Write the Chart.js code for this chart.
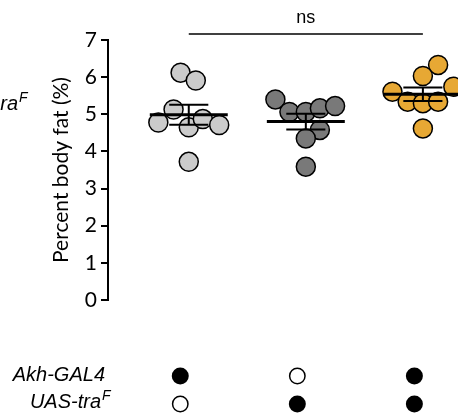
<!DOCTYPE html>
<html><head><meta charset="utf-8">
<script src="https://cdn.jsdelivr.net/npm/chart.js@4"></script>
<style>html,body{margin:0;padding:0;background:#fff}canvas{display:block}</style>
</head><body>
<canvas id="c" width="458" height="419"></canvas>
<script>
// ---- data ----
const groupNames = ['Akh-GAL4 > +', '+ > UAS-traF', 'Akh-GAL4 > UAS-traF'];
const groupPositions = [1, 2, 3];
const akhControlValues = [6.12, 5.91, 5.13, 4.78, 4.65, 4.87, 4.71, 3.72];
const akhControlJitter = [-0.07, 0.06, -0.13, -0.26, 0, 0.12, 0.26, 0];
const uasControlValues = [5.40, 5.06, 5.06, 5.16, 5.22, 4.58, 4.35, 3.59];
const uasControlJitter = [-0.26, -0.14, 0, 0.12, 0.25, 0.12, 0, 0];
const experimentalValues = [6.33, 6.03, 5.61, 5.74, 5.34, 5.30, 5.34, 4.62];
const experimentalJitter = [0.13, 0, -0.26, 0.26, -0.13, 0, 0.13, 0];
const yTickValues = [0, 1, 2, 3, 4, 5, 6, 7];
const yAxisTitle = 'Percent body fat (%)';
const significanceLabel = 'ns';
const genotypeRowLabels = ['Akh-GAL4', 'UAS-tra'];
const genotypeRowSuperscripts = ['', 'F'];
const akhGal4Present = [true, false, true];
const uasTraPresent = [false, true, true];

// ---- styles ----
const fillColors = ['#cbcbcb', '#797979', '#e7a834'];
const tickFont = {family: 'Lato', size: 21};

function pts(values, jitter, pos) {
  return values.map((v, i) => ({x: pos + jitter[i], y: v}));
}
const groupValues = [akhControlValues, uasControlValues, experimentalValues];
const groupJitter = [akhControlJitter, uasControlJitter, experimentalJitter];

const datasets = groupValues.map((vals, g) => ({
  label: groupNames[g],
  data: pts(vals, groupJitter[g], groupPositions[g]),
  backgroundColor: fillColors[g],
  borderColor: '#000',
  borderWidth: 1.5,
  pointRadius: 9.5,
  pointHoverRadius: 9.5,
  clip: false
}));

function mean(a){return a.reduce((s,v)=>s+v,0)/a.length;}
function sem(a){const m=mean(a);const sd=Math.sqrt(a.reduce((s,v)=>s+(v-m)*(v-m),0)/(a.length-1));return sd/Math.sqrt(a.length);}

function italicText(ctx, text, sup, xRight, baseline) {
  ctx.font = 'italic 20px "Liberation Sans", Arial, sans-serif';
  ctx.textAlign = 'right';
  ctx.textBaseline = 'alphabetic';
  ctx.fillText(text, xRight, baseline);
  if (sup) {
    ctx.font = 'italic 14px "Liberation Sans", Arial, sans-serif';
    ctx.textAlign = 'left';
    ctx.fillText(sup, xRight + 1, baseline - 8);
  }
}

const overlay = {
  id: 'overlay',
  afterDatasetsDraw(chart) {
    const ctx = chart.ctx, x = chart.scales.x, y = chart.scales.y;
    ctx.save();
    ctx.strokeStyle = '#000';
    ctx.fillStyle = '#000';
    // mean and SEM
    groupValues.forEach((vals, g) => {
      const p = groupPositions[g];
      const m = mean(vals), s = sem(vals);
      const cx = x.getPixelForValue(p);
      ctx.lineWidth = 3;
      ctx.beginPath();
      ctx.moveTo(x.getPixelForValue(p - 0.333), y.getPixelForValue(m));
      ctx.lineTo(x.getPixelForValue(p + 0.333), y.getPixelForValue(m));
      ctx.stroke();
      ctx.lineWidth = 2;
      ctx.beginPath();
      ctx.moveTo(cx, y.getPixelForValue(m + s));
      ctx.lineTo(cx, y.getPixelForValue(m - s));
      [m + s, m - s].forEach(v => {
        ctx.moveTo(x.getPixelForValue(p - 0.167), y.getPixelForValue(v));
        ctx.lineTo(x.getPixelForValue(p + 0.167), y.getPixelForValue(v));
      });
      ctx.stroke();
    });
    // significance bracket
    ctx.lineWidth = 1.5;
    ctx.beginPath();
    ctx.moveTo(x.getPixelForValue(groupPositions[0]), 34);
    ctx.lineTo(x.getPixelForValue(groupPositions[2]), 34);
    ctx.stroke();
    ctx.font = '18px "Liberation Sans", Arial, sans-serif';
    ctx.textAlign = 'center';
    ctx.textBaseline = 'alphabetic';
    ctx.fillText(significanceLabel, x.getPixelForValue(groupPositions[1]), 23);
    // cut-off label from neighbouring panel
    italicText(ctx, 'ra', 'F', 18, 110);
    // genotype table
    const rowBase = [381, 408];
    const rowDot = [376, 404];
    const rowRight = [105, 101];
    const presence = [akhGal4Present, uasTraPresent];
    genotypeRowLabels.forEach((lab, r) => {
      italicText(ctx, lab, genotypeRowSuperscripts[r], rowRight[r], rowBase[r]);
      presence[r].forEach((on, g) => {
        const cx = x.getPixelForValue(groupPositions[g]) - 8.5;
        ctx.beginPath();
        ctx.arc(cx, rowDot[r], on ? 8.5 : 7.7, 0, Math.PI * 2);
        if (on) { ctx.fillStyle = '#000'; ctx.fill(); }
        else { ctx.lineWidth = 1.5; ctx.stroke(); }
      });
    });
    ctx.restore();
  }
};

new Chart(document.getElementById('c'), {
  type: 'scatter',
  data: {datasets},
  options: {
    responsive: false,
    animation: false,
    events: [],
    layout: {autoPadding: false, padding: {top: 40, bottom: 119, left: 0, right: 0}},
    plugins: {legend: {display: false}, tooltip: {enabled: false}},
    scales: {
      x: {type: 'linear', min: 0.31, max: 3.3, display: false},
      y: {
        min: 0, max: 7,
        afterFit(s) { s.width = 108; },
        afterBuildTicks(s) { s.ticks = yTickValues.map(v => ({value: v})); },
        border: {display: true, color: '#000', width: 2},
        grid: {display: true, drawOnChartArea: false, drawTicks: true, tickLength: 7, color: '#000', lineWidth: 2},
        ticks: {color: '#000', font: tickFont, padding: 4},
        title: {display: true, text: yAxisTitle, color: '#000', font: tickFont, padding: {top: 49, bottom: 0}}
      }
    }
  },
  plugins: [overlay]
});
</script>
</body></html>
